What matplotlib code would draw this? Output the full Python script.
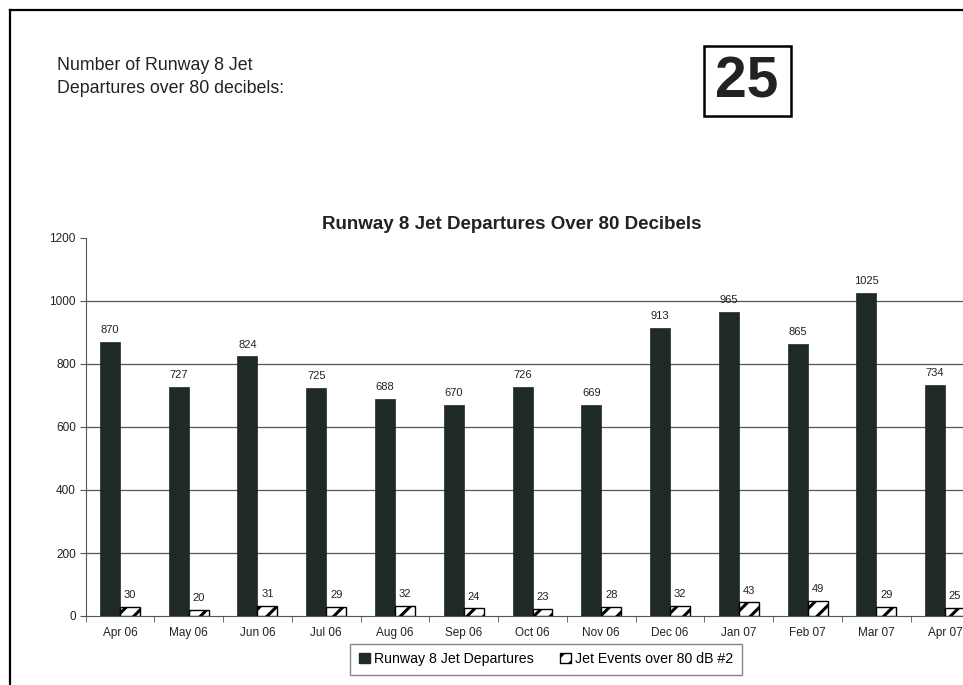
import matplotlib
matplotlib.use("Agg")
import matplotlib.pyplot as plt
import numpy as np
from matplotlib.lines import Line2D
from matplotlib.patches import Patch, Rectangle

plt.rcParams["font.family"] = ["Liberation Sans", "DejaVu Sans"]
plt.rcParams["hatch.linewidth"] = 2.2

months = ["Apr 06", "May 06", "Jun 06", "Jul 06", "Aug 06", "Sep 06", "Oct 06",
          "Nov 06", "Dec 06", "Jan 07", "Feb 07", "Mar 07", "Apr 07"]
departures = [870, 727, 824, 725, 688, 670, 726, 669, 913, 965, 865, 1025, 734]
events_80db = [30, 20, 31, 29, 32, 24, 23, 28, 32, 43, 49, 29, 25]
latest_count = events_80db[-1]

W, H = 963, 685
fig = plt.figure(figsize=(W / 100, H / 100), dpi=100)
fig.patch.set_facecolor("white")


def fx(px):
    return px / W


def fy(py):
    return 1 - py / H


# page frame (left and top edges)
fig.add_artist(Line2D([fx(10), fx(10)], [0, fy(10)], color="black", lw=1.6))
fig.add_artist(Line2D([fx(10), 1], [fy(10), fy(10)], color="black", lw=1.6))

fig.text(fx(57), fy(77), "Number of Runway 8 Jet\nDepartures over 80 decibels:",
         fontsize=12.8, va="center", ha="left", linespacing=1.4, color="#222222")

fig.add_artist(Rectangle((fx(704), fy(116)), fx(791) - fx(704), fy(46) - fy(116),
                         transform=fig.transFigure, fill=False, ec="black", lw=1.8))
fig.text(fx(747), fy(82), str(latest_count), fontsize=41, fontweight="bold",
         ha="center", va="center", color="#222222")

# chart area runs past the right edge of the page
ax = fig.add_axes([fx(85.5), fy(616), fx(979.5) - fx(85.5), fy(238) - fy(616)])
x = np.arange(len(months))
bw = 0.29
dark = "#1f2925"
ax.bar(x - bw / 2, departures, bw, color=dark, edgecolor=dark, lw=0.5,
       label="Runway 8 Jet Departures", zorder=3)
ax.bar(x + bw / 2, events_80db, bw, color="white", edgecolor="black", lw=1.0,
       hatch="//", label="Jet Events over 80 dB #2", zorder=3)

for xi, v in zip(x, departures):
    ax.text(xi - bw / 2, v + 22, str(v), ha="center", va="bottom", fontsize=8, color="#222222")
for xi, v in zip(x, events_80db):
    ax.text(xi + bw / 2, v + 22, str(v), ha="center", va="bottom", fontsize=8, color="#222222")

ax.set_xlim(-0.5, len(months) - 0.5)
ax.set_ylim(0, 1200)
ax.set_yticks(range(0, 1201, 200))
ax.set_xticks(x)
ax.set_xticklabels(months, fontsize=8.5, color="#222222")
ax.set_xticks(np.arange(-0.5, len(months), 1.0), minor=True)
ax.tick_params(axis="x", which="major", length=0, pad=8)
ax.tick_params(axis="x", which="minor", length=4, direction="out", color="#555555")
ax.tick_params(axis="y", labelsize=8.5, length=4, direction="out", color="#555555",
               labelcolor="#222222", pad=3)
for val in range(200, 1001, 200):
    ax.axhline(val, color="#555555", lw=0.9, zorder=1)
for side in ("top", "right"):
    ax.spines[side].set_visible(False)
ax.spines["left"].set_color("#555555")
ax.spines["bottom"].set_color("#555555")

fig.text(fx(512), fy(225), "Runway 8 Jet Departures Over 80 Decibels", fontsize=13.5,
         fontweight="bold", ha="center", va="center", color="#222222")

handles = [Patch(facecolor=dark, edgecolor=dark, label="Runway 8 Jet Departures"),
           Patch(facecolor="white", edgecolor="black", hatch="//", label="Jet Events over 80 dB #2")]
fig.legend(handles=handles, loc="center", bbox_to_anchor=(fx(546), fy(659)), ncol=2,
           fontsize=10.2, frameon=True, fancybox=False, edgecolor="#666666",
           handlelength=0.8, handleheight=0.8, handletextpad=0.3, columnspacing=1.8,
           borderpad=0.6)

fig.savefig("out.png", dpi=100)
